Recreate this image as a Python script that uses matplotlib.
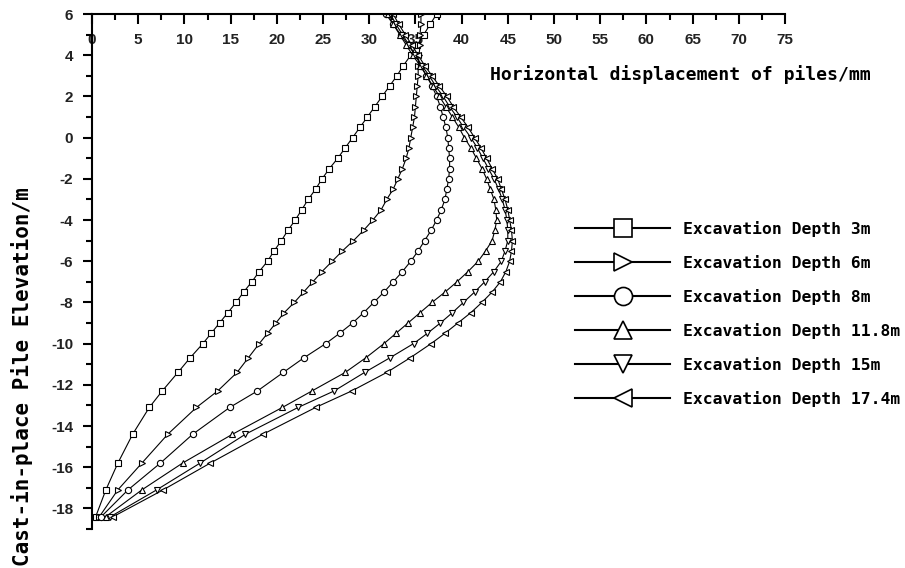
import matplotlib
matplotlib.use("Agg")
import matplotlib.pyplot as plt
from matplotlib.lines import Line2D
from matplotlib.ticker import MultipleLocator

plt.rcParams['axes.unicode_minus'] = False

# elevation of the measuring points (m)
elevation = [6.0, 5.5, 5.0, 4.5, 4.0, 3.5, 3.0, 2.5, 2.0, 1.5, 1.0, 0.5, 0.0,
             -0.5, -1.0, -1.5, -2.0, -2.5, -3.0, -3.5, -4.0, -4.5, -5.0, -5.5,
             -6.0, -6.5, -7.0, -7.5, -8.0, -8.5, -9.0, -9.5, -10.0, -10.7,
             -11.4, -12.3, -13.1, -14.4, -15.8, -17.1, -18.4]

# horizontal displacement (mm) for each excavation stage
disp_3m = [37.3, 36.6, 35.9, 35.2, 34.5, 33.7, 33.0, 32.2, 31.4, 30.6, 29.8, 29.0, 28.2,
           27.4, 26.6, 25.7, 24.9, 24.2, 23.4, 22.7, 22.0, 21.2, 20.5, 19.7,
           19.0, 18.1, 17.3, 16.4, 15.6, 14.7, 13.8, 12.9, 12.0, 10.6,
           9.3, 7.6, 6.2, 4.4, 2.8, 1.5, 0.4]
disp_6m = [35.6, 35.6, 35.5, 35.5, 35.4, 35.3, 35.3, 35.2, 35.1, 35.0, 34.9, 34.7, 34.5,
           34.3, 34.0, 33.6, 33.1, 32.6, 31.9, 31.3, 30.4, 29.4, 28.3, 27.1,
           26.0, 24.9, 23.9, 22.9, 21.9, 20.8, 19.9, 19.0, 18.1, 16.9,
           15.7, 13.6, 11.3, 8.2, 5.4, 2.8, 0.8]
disp_8m = [31.8, 32.6, 33.4, 34.2, 35.0, 35.6, 36.2, 36.8, 37.3, 37.7, 38.0, 38.3, 38.5,
           38.6, 38.7, 38.7, 38.6, 38.4, 38.2, 37.8, 37.3, 36.7, 36.0, 35.3,
           34.5, 33.6, 32.6, 31.6, 30.5, 29.4, 28.2, 26.8, 25.3, 22.9,
           20.7, 17.9, 14.9, 10.9, 7.4, 3.9, 1.0]
disp_11_8m = [32.0, 32.6, 33.3, 34.0, 34.7, 35.5, 36.2, 36.9, 37.6, 38.3, 39.0, 39.7, 40.3,
              41.0, 41.6, 42.2, 42.7, 43.1, 43.5, 43.7, 43.8, 43.6, 43.3, 42.6,
              41.8, 40.7, 39.5, 38.2, 36.8, 35.5, 34.2, 32.9, 31.6, 29.6,
              27.4, 23.8, 20.6, 15.2, 9.8, 5.4, 1.5]
disp_15m = [32.3, 32.9, 33.6, 34.3, 35.0, 35.7, 36.5, 37.2, 38.0, 38.7, 39.5, 40.2, 41.0,
            41.7, 42.3, 42.9, 43.5, 44.0, 44.4, 44.7, 44.9, 45.0, 45.0, 44.7,
            44.3, 43.5, 42.5, 41.4, 40.2, 39.0, 37.7, 36.3, 34.8, 32.2,
            29.5, 26.2, 22.3, 16.6, 11.7, 7.0, 2.0]
disp_17_4m = [32.6, 33.2, 33.9, 34.6, 35.3, 36.0, 36.8, 37.6, 38.4, 39.1, 39.9, 40.7, 41.4,
              42.1, 42.7, 43.3, 43.9, 44.3, 44.7, 45.0, 45.2, 45.4, 45.5, 45.4,
              45.2, 44.8, 44.2, 43.3, 42.2, 41.0, 39.6, 38.2, 36.7, 34.4,
              31.9, 28.1, 24.2, 18.5, 12.8, 7.7, 2.3]

labels = ["Excavation Depth 3m", "Excavation Depth 6m", "Excavation Depth 8m",
          "Excavation Depth 11.8m", "Excavation Depth 15m", "Excavation Depth 17.4m"]
series = [disp_3m, disp_6m, disp_8m, disp_11_8m, disp_15m, disp_17_4m]
markers = ['s', '>', 'o', '^', 'v', '<']

mono = 'DejaVu Sans Mono'

fig = plt.figure(figsize=(9.05, 5.68), dpi=100)
ax = fig.add_axes([92/905, 1 - 529/568, 693/905, 515/568])

for xs, m in zip(series, markers):
    ax.plot(xs, elevation, color='black', lw=0.8, marker=m, markersize=4.5,
            markerfacecolor='white', markeredgecolor='black', markeredgewidth=0.8)

ax.set_xlim(0, 75)
ax.set_ylim(-19, 6)

# only top and left axes
ax.spines['right'].set_visible(False)
ax.spines['bottom'].set_visible(False)
ax.spines['top'].set_linewidth(1.5)
ax.spines['left'].set_linewidth(1.5)

ax.xaxis.set_major_locator(MultipleLocator(5))
ax.xaxis.set_minor_locator(MultipleLocator(2.5))
ax.yaxis.set_major_locator(MultipleLocator(2))
ax.yaxis.set_minor_locator(MultipleLocator(1))

ax.tick_params(axis='x', which='both', top=True, bottom=False, labeltop=True,
               labelbottom=False, direction='in', width=1.5)
ax.tick_params(axis='x', which='major', length=7, pad=-24)
ax.tick_params(axis='x', which='minor', length=4)
ax.tick_params(axis='y', which='both', left=True, right=False, direction='out', width=1.5)
ax.tick_params(axis='y', which='major', length=6.5, pad=7)
ax.tick_params(axis='y', which='minor', length=4)

for lab in ax.get_xticklabels() + ax.get_yticklabels():
    lab.set_fontfamily('Liberation Sans')
    lab.set_fontweight('bold')
    lab.set_fontsize(11)
    lab.set_color('#222222')

fig.text(490/905, 1 - 75/568, "Horizontal displacement of piles/mm",
         family=mono, weight='bold', fontsize=13, ha='left', va='center')
fig.text(22/905, 1 - 377/568, "Cast-in-place Pile Elevation/m",
         family=mono, weight='bold', fontsize=15, rotation=90,
         ha='center', va='center')

handles = [Line2D([], [], color='black', lw=1.5, marker=m, markersize=13,
                  markerfacecolor='white', markeredgecolor='black',
                  markeredgewidth=1.2) for m in markers]
ax.legend(handles, labels, loc='center left', bbox_to_anchor=(575/905, 1 - 314/568),
          bbox_transform=fig.transFigure, frameon=False, handlelength=5.8,
          handletextpad=0.8, labelspacing=1.1, borderpad=0, borderaxespad=0,
          prop={'family': mono, 'weight': 'bold', 'size': 11.8})

fig.savefig("out.png", dpi=100)
